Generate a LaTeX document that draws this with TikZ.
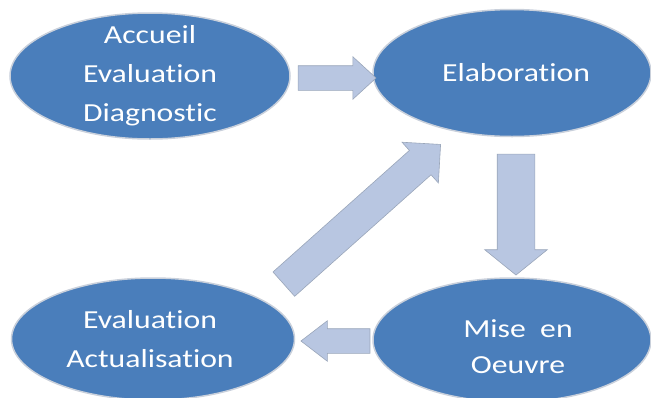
\documentclass[tikz,border=0pt]{standalone}
\usepackage{fontspec}
\usepackage{tikz}
\usetikzlibrary{shapes.geometric,shapes.arrows,positioning}
\newfontfamily\phasefont[FakeStretch=1.22,Ligatures=NoCommon]{Carlito}
\definecolor{phaseblue}{HTML}{4A7EBB}
\definecolor{phaseedge}{HTML}{C9D0DB}
\definecolor{arrowblue}{HTML}{B8C6E1}
\definecolor{arrowedge}{HTML}{9AA6BA}

\begin{document}
\begin{tikzpicture}[x=1pt,y=-1pt,
    phase node/.style={ellipse,draw=phaseedge,line width=1.5pt,fill=phaseblue,inner sep=0pt},
    phase text/.style={text=white,align=center,font=\phasefont\fontsize{26}{39}\selectfont},
    block arrow/.style={single arrow,draw=arrowedge,fill=arrowblue,line width=0.6pt,
                        inner xsep=0pt,anchor=tail}]

      \useasboundingbox (0,0) rectangle (651,397);
      \clip (0,0) rectangle (651,397);

      \node[phase node,minimum width=280pt,minimum height=126pt,
            label={[phase text]center:Accueil\\Evaluation\\Diagnostic}] (1) at (150,76) {};
      \node[phase node,minimum width=278pt,minimum height=127pt,
            label={[phase text,xshift=4pt]center:Elaboration}] (2) at (512,73) {};
      \node[phase node,minimum width=283pt,minimum height=122pt,
            label={[phase text,xshift=-3pt]center:Evaluation\\Actualisation}] (3) at (153,339) {};
      \node[phase node,minimum width=278pt,minimum height=124pt,
            label={[phase text,xshift=6pt,yshift=-7pt,font=\phasefont\fontsize{26}{36}\selectfont]center:Mise~~en\\Oeuvre}] (4) at (512,340) {};

      % block arrows between the phases
      \node[block arrow,inner ysep=12pt,single arrow head extend=9pt,single arrow tip angle=85,
            minimum height=78pt] (12) at ([xshift=7pt,yshift=-2pt]1.east) {};
      \node[block arrow,rotate=-90,inner ysep=18.5pt,single arrow head extend=12.5pt,
            single arrow tip angle=102,minimum height=121pt] (23) at ([xshift=4pt,yshift=-16.5pt]2.south) {};
      \node[block arrow,rotate=180,inner ysep=12pt,single arrow head extend=8pt,
            single arrow tip angle=75,minimum height=69pt] (34) at ([xshift=-2pt,yshift=-1pt]4.west) {};
      \node[block arrow,rotate=41.7,inner ysep=16pt,single arrow head extend=11pt,
            single arrow tip angle=90,minimum height=210pt] (31) at ([xshift=30pt,yshift=11pt]3.north east) {};

\end{tikzpicture}
\end{document}
